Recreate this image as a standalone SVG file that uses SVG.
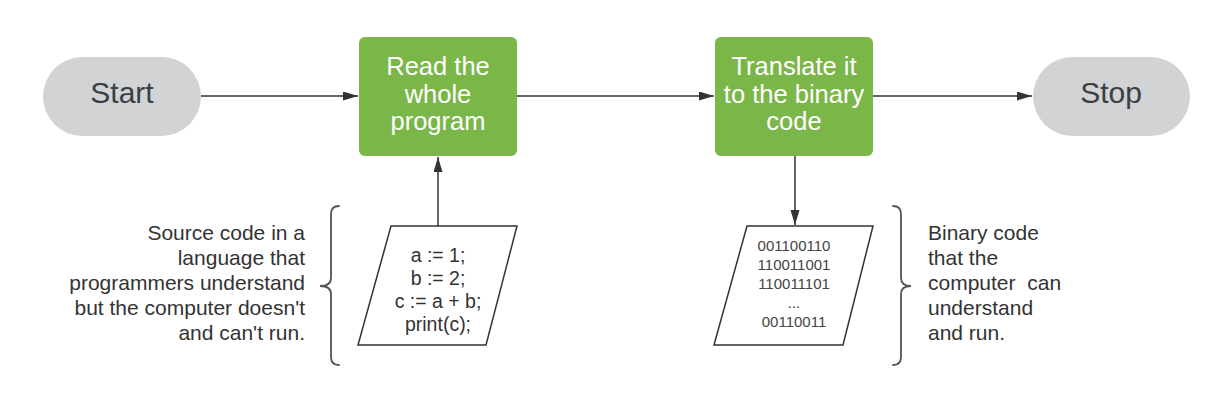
<svg xmlns="http://www.w3.org/2000/svg" width="1208" height="405" viewBox="0 0 1208 405">
<style>
.pill{fill:#d1d3d4;}
.pilltxt{font-family:"Liberation Sans",Arial,sans-serif;font-size:30px;fill:#3a3f45;text-anchor:middle;}
.proc{fill:#7ab648;}
.proctxt{font-family:"Liberation Sans",Arial,sans-serif;font-size:25.5px;fill:#ffffff;text-anchor:middle;}
.io{fill:#ffffff;stroke:#333333;stroke-width:1.5;}
.code{font-family:"Liberation Sans",Arial,sans-serif;font-size:19.5px;fill:#333333;text-anchor:middle;}
.bin{font-family:"Liberation Sans",Arial,sans-serif;font-size:15px;fill:#444444;text-anchor:middle;}
.note{font-family:"Liberation Sans",Arial,sans-serif;font-size:21px;fill:#333333;}
.brace{fill:none;stroke:#555555;stroke-width:1.8;stroke-linecap:round;}
.conn{fill:none;stroke:#333333;stroke-width:1.5;marker-end:url(#arrow);}
</style>
<defs>
<marker id="arrow" markerUnits="userSpaceOnUse" markerWidth="15" markerHeight="10" refX="15" refY="4.5" orient="auto">
<path d="M0,0 L15,4.5 L0,9 z" fill="#333333"/>
</marker>
</defs>
<rect width="1208" height="405" fill="#ffffff"/>
<g id="connectors">
<line class="conn" x1="201" y1="96" x2="358" y2="96"/>
<line class="conn" x1="517" y1="96" x2="714" y2="96"/>
<line class="conn" x1="873" y1="96" x2="1032" y2="96"/>
<line class="conn" x1="438" y1="226" x2="438" y2="157"/>
<line class="conn" x1="795" y1="156" x2="795" y2="225"/>
</g>
<g id="start">
<rect class="pill" x="43" y="57" width="158" height="79" rx="39.5"/>
<text class="pilltxt" x="122" y="103">Start</text>
</g>
<g id="read">
<rect class="proc" x="359" y="37" width="158" height="119" rx="6"/>
<text class="proctxt" x="438" y="75">Read the</text>
<text class="proctxt" x="438" y="102.5">whole</text>
<text class="proctxt" x="438" y="130">program</text>
</g>
<g id="translate">
<rect class="proc" x="715" y="37" width="158" height="119" rx="6"/>
<text class="proctxt" x="794" y="75">Translate it</text>
<text class="proctxt" x="794" y="102.5">to the binary</text>
<text class="proctxt" x="794" y="130">code</text>
</g>
<g id="stop">
<rect class="pill" x="1033" y="57" width="157" height="79" rx="39.5"/>
<text class="pilltxt" x="1111" y="103">Stop</text>
</g>
<g id="source">
<polygon class="io" points="391,226 517,226 486,345 358,345"/>
<text class="code" x="438" y="261.5">a := 1;</text>
<text class="code" x="438" y="284.5">b := 2;</text>
<text class="code" x="438" y="307.5">c := a + b;</text>
<text class="code" x="438" y="330.5">print(c);</text>
</g>
<g id="binary">
<polygon class="io" points="747,226 873,226 843,345 714,345"/>
<text class="bin" x="794" y="250.5">001100110</text>
<text class="bin" x="794" y="269.5">110011001</text>
<text class="bin" x="794" y="288.5">110011101</text>
<text class="bin" x="794" y="307.5">...</text>
<text class="bin" x="794" y="326.5">00110011</text>
</g>
<g id="source-note">
<path class="brace" d="M339,206 Q331,206 331,214 L331,278 Q331,286 320,286 Q331,286 331,294 L331,357 Q331,365 339,365"/>
<text class="note" text-anchor="end" x="305" y="240">Source code in a</text>
<text class="note" text-anchor="end" x="305" y="265">language that</text>
<text class="note" text-anchor="end" x="305" y="290">programmers understand</text>
<text class="note" text-anchor="end" x="305" y="315">but the computer doesn't</text>
<text class="note" text-anchor="end" x="305" y="340">and can't run.</text>
</g>
<g id="binary-note">
<path class="brace" d="M893,206 Q901,206 901,214 L901,278 Q901,286 911,286 Q901,286 901,294 L901,357 Q901,365 893,365"/>
<text class="note" x="928" y="240">Binary code</text>
<text class="note" x="928" y="265">that the</text>
<text class="note" x="928" y="290" xml:space="preserve">computer  can</text>
<text class="note" x="928" y="315">understand</text>
<text class="note" x="928" y="340">and run.</text>
</g>
</svg>
